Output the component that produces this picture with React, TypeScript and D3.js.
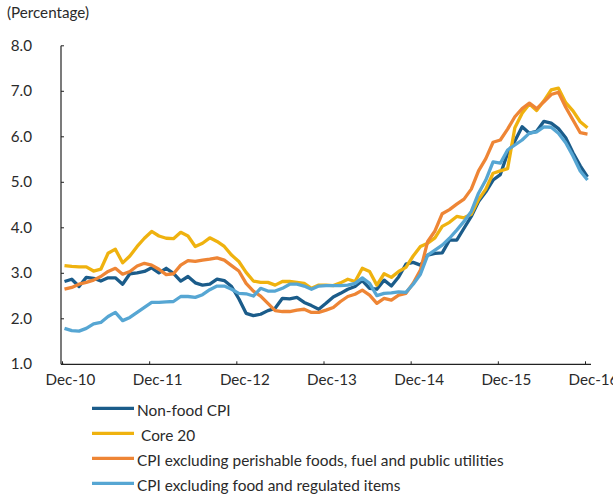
import React from "react";
import * as d3 from "d3";

const months: string[] = (() => {
  const out: string[] = [];
  const names = ["Jan","Feb","Mar","Apr","May","Jun","Jul","Aug","Sep","Oct","Nov","Dec"];
  // Dec-10 .. Dec-16 monthly
  for (let k = 0; k <= 72; k++) {
    const m = (11 + k) % 12;
    const y = 10 + Math.floor((11 + k) / 12);
    out.push(`${names[m]}-${y}`);
  }
  return out;
})();

const tickLabels = ["Dec-10", "Dec-11", "Dec-12", "Dec-13", "Dec-14", "Dec-15", "Dec-16"];
const yTicks = [1, 2, 3, 4, 5, 6, 7, 8];

const nonFoodCPI = [
  2.82, 2.87, 2.71, 2.91, 2.89, 2.83, 2.90, 2.90, 2.76, 2.99, 3.01, 3.04,
  3.12, 3.01, 3.11, 3.00, 2.83, 2.93, 2.79, 2.74, 2.76, 2.87, 2.84, 2.71,
  2.44, 2.12, 2.07, 2.10, 2.18, 2.23, 2.45, 2.44, 2.47, 2.36, 2.29, 2.21,
  2.34, 2.48, 2.56, 2.65, 2.71, 2.84, 2.67, 2.65, 2.85, 2.72, 2.92, 3.20,
  3.24, 3.18, 3.40, 3.44, 3.45, 3.73, 3.73, 3.99, 4.25, 4.58, 4.79, 5.05,
  5.17, 5.64, 5.91, 6.22, 6.08, 6.12, 6.34, 6.30, 6.18, 5.98, 5.65, 5.36,
  5.12,
];

const core20 = [
  3.17, 3.15, 3.14, 3.14, 3.05, 3.09, 3.44, 3.53, 3.23, 3.38, 3.59, 3.77,
  3.92, 3.82, 3.77, 3.76, 3.90, 3.82, 3.59, 3.66, 3.78, 3.70, 3.59, 3.40,
  3.26, 3.02, 2.83, 2.80, 2.80, 2.74, 2.82, 2.82, 2.80, 2.78, 2.67, 2.74,
  2.74, 2.73, 2.79, 2.87, 2.82, 3.11, 3.04, 2.74, 2.99, 2.91, 3.04, 3.13,
  3.38, 3.59, 3.66, 3.78, 4.03, 4.12, 4.25, 4.22, 4.30, 4.62, 4.85, 5.20,
  5.25, 5.30, 6.20, 6.52, 6.72, 6.58, 6.79, 7.03, 7.07, 6.75, 6.57, 6.33,
  6.20,
];

const cpiExPerishable = [
  2.65, 2.69, 2.76, 2.80, 2.85, 2.93, 3.04, 3.11, 2.98, 3.04, 3.16, 3.22,
  3.18, 3.09, 2.97, 2.99, 3.18, 3.28, 3.26, 3.29, 3.31, 3.34, 3.29, 3.17,
  3.05, 2.78, 2.61, 2.50, 2.34, 2.18, 2.16, 2.16, 2.19, 2.21, 2.14, 2.14,
  2.19, 2.25, 2.38, 2.49, 2.54, 2.63, 2.52, 2.34, 2.45, 2.41, 2.52, 2.56,
  2.78, 3.07, 3.70, 3.93, 4.31, 4.40, 4.52, 4.63, 4.85, 5.25, 5.52, 5.88,
  5.93, 6.17, 6.44, 6.62, 6.74, 6.62, 6.77, 6.93, 6.98, 6.65, 6.37, 6.09,
  6.06,
];

const cpiExFoodRegulated = [
  1.79, 1.74, 1.73, 1.79, 1.89, 1.92, 2.05, 2.14, 1.96, 2.03, 2.14, 2.25,
  2.36, 2.36, 2.37, 2.38, 2.49, 2.49, 2.47, 2.53, 2.64, 2.72, 2.72, 2.65,
  2.56, 2.55, 2.50, 2.67, 2.61, 2.61, 2.67, 2.76, 2.76, 2.72, 2.65, 2.72,
  2.73, 2.73, 2.73, 2.74, 2.78, 2.90, 2.78, 2.51, 2.56, 2.57, 2.59, 2.58,
  2.76, 2.98, 3.40, 3.51, 3.62, 3.77, 3.95, 4.14, 4.36, 4.76, 5.05, 5.45,
  5.42, 5.71, 5.82, 5.93, 6.08, 6.11, 6.22, 6.21, 6.08, 5.87, 5.58, 5.25,
  5.05,
];

const seriesNames = [
  "Non-food CPI",
  "Core 20",
  "CPI excluding perishable foods, fuel and public utilities",
  "CPI excluding food and regulated items",
];
const seriesColors = ["#1b5c8a", "#efb20f", "#ee8535", "#56a6d3"];
const seriesValues = [nonFoodCPI, core20, cpiExPerishable, cpiExFoodRegulated];

const FONT = "Lato, 'Open Sans', sans-serif";
const TEXT = "#2a2a2a";

export default function App() {
  const W = 613;
  const H = 494;
  const x = d3.scaleLinear().domain([0, months.length - 1]).range([64.5, 587.5]);
  const y = d3.scaleLinear().domain([1, 8]).range([364.3, 45.8]);
  const axisLeft = 61;
  const axisRight = 591;
  const line = d3
    .line<number>()
    .x((_, i) => x(i))
    .y((d) => y(d));

  return (
    <svg
      width={W}
      height={H}
      style={{ position: "absolute", left: 0, top: 0, background: "#fff" }}
      fontFamily={FONT}
    >
      <text x={7} y={18} fontSize={15.2} fill={TEXT}>
        (Percentage)
      </text>

      {/* y axis */}
      <line x1={axisLeft} x2={axisLeft} y1={y(8)} y2={y(1)} stroke="#222" strokeWidth={1.2} />
      {yTicks.map((t) => (
        <g key={t}>
          <line x1={axisLeft} x2={axisLeft + 3} y1={y(t)} y2={y(t)} stroke="#222" strokeWidth={1} />
          <text x={32} y={y(t) + 5} fontSize={15.2} textAnchor="end" fill={TEXT}>
            {t.toFixed(1)}
          </text>
        </g>
      ))}

      {/* x axis */}
      <line x1={axisLeft} x2={axisRight} y1={y(1)} y2={y(1)} stroke="#222" strokeWidth={1.2} />
      {tickLabels.map((lab, k) => {
        const xi = x(k * 12) - 2;
        return (
          <g key={lab}>
            <line x1={xi} x2={xi} y1={y(1)} y2={y(1) - 3} stroke="#222" strokeWidth={1} />
            <text x={xi + 8} y={385} fontSize={15.2} textAnchor="middle" fill={TEXT}>
              {lab}
            </text>
          </g>
        );
      })}

      {/* series */}
      {seriesValues.map((vals, s) => (
        <path
          key={seriesNames[s]}
          d={line(vals) || ""}
          fill="none"
          stroke={seriesColors[s]}
          strokeWidth={3.3}
          strokeLinejoin="round"
          strokeLinecap="butt"
        />
      ))}

      {/* legend */}
      {seriesNames.map((name, s) => {
        const ly = 408.3 + s * 25;
        return (
          <g key={name}>
            <line x1={92} x2={134} y1={ly} y2={ly} stroke={seriesColors[s]} strokeWidth={3.3} />
            <text x={s === 1 ? 141 : 137} y={ly + 8} fontSize={15.4} fill={TEXT}>
              {name}
            </text>
          </g>
        );
      })}
    </svg>
  );
}
